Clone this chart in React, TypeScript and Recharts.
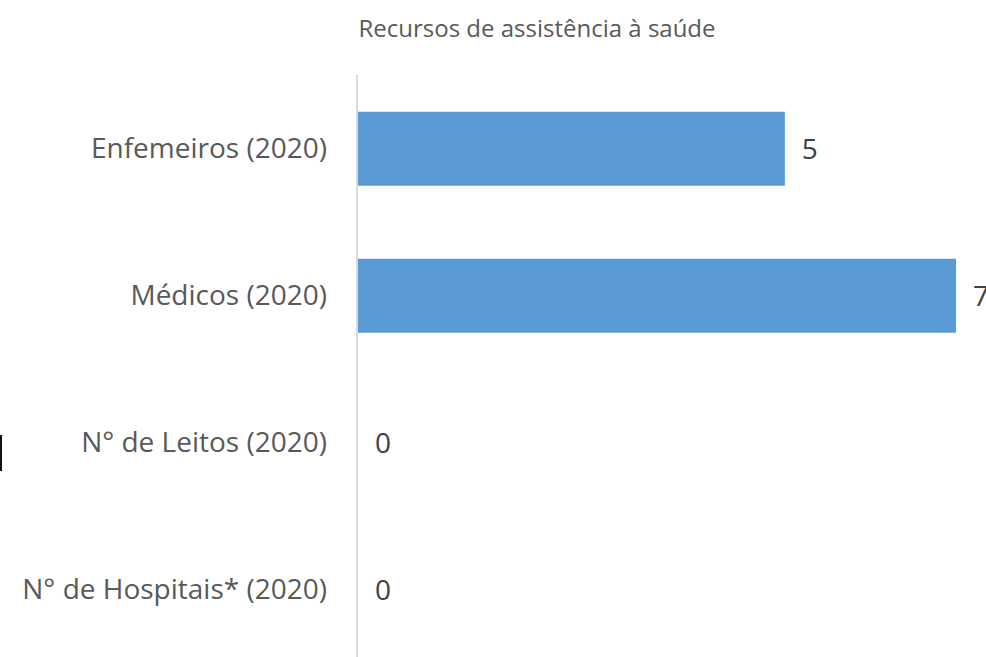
import { BarChart, Bar, XAxis, YAxis, LabelList, Rectangle } from 'recharts';

const categories = ['Enfemeiros (2020)', 'Médicos (2020)', 'N° de Leitos (2020)', 'N° de Hospitais* (2020)'];
const values = [5, 7, 0, 0];
const title = 'Recursos de assistência à saúde';

const data = categories.map((name, i) => ({ name, value: values[i] }));

const FONT = '"Open Sans", sans-serif';
const GREY = '#595959';

// zero bars still need a rect so the "0" label shows; just don't paint it
const BarShape = (props: any) => {
    if (!props.payload || props.payload.value === 0) return <g />;
    return <Rectangle {...props} />;
};

export default function App() {
    return (
        <div style={{ position: 'fixed', left: 0, top: 0, width: 986, height: 657, overflow: 'hidden', background: '#fff' }}>
            <div
                style={{
                    position: 'absolute', top: 11, left: 337, width: 400, textAlign: 'center',
                    fontFamily: FONT, fontSize: 24, color: GREY, whiteSpace: 'nowrap',
                }}
            >
                {title}
            </div>
            {/* cropped edge of something to the left */}
            <div style={{ position: 'absolute', left: 0, top: 435, width: 2, height: 36, background: '#111' }} />
            <div style={{ position: 'absolute', left: 0, top: 0 }}>
                <BarChart
                    width={986}
                    height={700}
                    data={data}
                    layout="vertical"
                    margin={{ top: 75, right: 30, bottom: 37, left: 0 }}
                    barCategoryGap="25%"
                >
                    <XAxis type="number" dataKey="value" domain={[0, 7]} height={0} tick={false} axisLine={false} tickLine={false} />
                    <YAxis
                        type="category"
                        dataKey="name"
                        width={357}
                        tickLine={false}
                        axisLine={{ stroke: '#d9d9d9', strokeWidth: 2 }}
                        tickMargin={24}
                        tick={{ fill: GREY, fontSize: 28, fontFamily: FONT }}
                    />
                    <Bar dataKey="value" fill="#5b9bd5" isAnimationActive={false} minPointSize={1} shape={BarShape}>
                        <LabelList
                            dataKey="value"
                            position="right"
                            offset={17}
                            fill="#404040"
                            fontSize={28}
                            fontFamily={FONT}
                        />
                    </Bar>
                </BarChart>
            </div>
        </div>
    );
}
